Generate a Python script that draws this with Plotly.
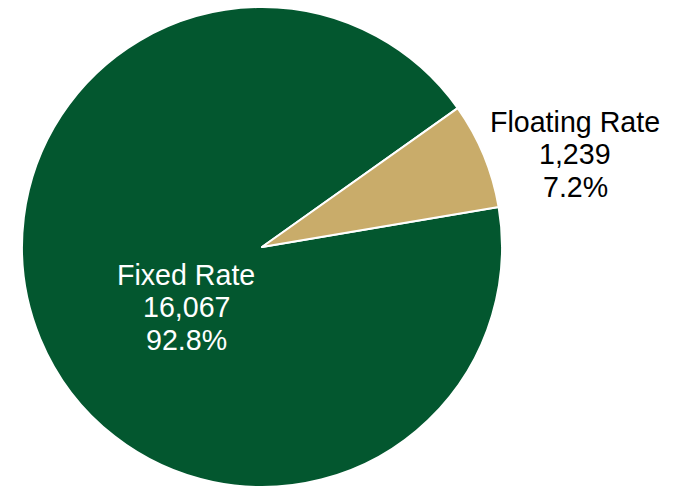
import plotly.graph_objects as go

# Portfolio split by rate type
categories = ["Fixed Rate", "Floating Rate"]
amounts = [16067, 1239]
slice_colors = ["#03572F", "#C9AC6A"]
label_colors = ["#FFFFFF", "#000000"]

W, H = 673, 488
total = sum(amounts)
shares = [a / total * 100 for a in amounts]

fig = go.Figure(
    go.Pie(
        labels=categories,
        values=amounts,
        sort=False,
        direction="clockwise",
        rotation=80.4,
        marker=dict(colors=slice_colors, line=dict(color="#FFFFFF", width=2)),
        textinfo="none",
        hoverinfo="label+value+percent",
        showlegend=False,
        domain=dict(x=[22 / W, 502 / W], y=[1 / H, 481 / H]),
    )
)

# label block centres (pixels) and line spacing
label_centres = [(186, 307), (575, 154)]
line_gap = 32.5

annotations = []
for name, amt, pct, colr, (cx, cy) in zip(categories, amounts, shares, label_colors, label_centres):
    lines = [name, f"{amt:,}", f"{pct:.1f}%"]
    for i, txt in enumerate(lines):
        py = cy + (i - 1) * line_gap
        annotations.append(
            dict(
                text=txt,
                x=cx / W,
                y=1 - py / H,
                xref="paper",
                yref="paper",
                xanchor="center",
                yanchor="middle",
                showarrow=False,
                font=dict(family="Liberation Sans, Arial, sans-serif", size=28.6, color=colr),
            )
        )

fig.update_layout(
    width=W,
    height=H,
    margin=dict(l=0, r=0, t=0, b=0),
    paper_bgcolor="#FFFFFF",
    plot_bgcolor="#FFFFFF",
    annotations=annotations,
)

fig.write_html("out.html")
